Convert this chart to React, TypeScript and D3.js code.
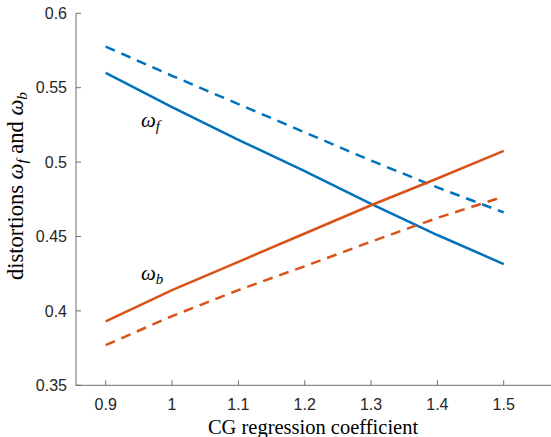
import React from "react";
import * as d3 from "d3";

const xs = [0.9, 1.0, 1.1, 1.2, 1.3, 1.4, 1.5];
const omegaFSolid = [0.56, 0.537, 0.515, 0.494, 0.472, 0.451, 0.4315];
const omegaFDashed = [0.5776, 0.558, 0.539, 0.52, 0.501, 0.483, 0.4662];
const omegaBSolid = [0.393, 0.414, 0.433, 0.452, 0.471, 0.489, 0.5075];
const omegaBDashed = [0.377, 0.3965, 0.414, 0.43, 0.4465, 0.4625, 0.4768];
const xTicks = [0.9, 1.0, 1.1, 1.2, 1.3, 1.4, 1.5];
const yTicks = [0.35, 0.4, 0.45, 0.5, 0.55, 0.6];

const W = 551;
const H = 437;
const BLUE = "#0072BD";
const ORANGE = "#D95319";

export default function App() {
  const x = d3.scaleLinear().domain([0.8552, 1.5713]).range([76, 551]);
  const y = d3.scaleLinear().domain([0.35, 0.6]).range([385.3, 13.3]);
  const line = d3
    .line<number>()
    .x((_, i) => x(xs[i]))
    .y((d) => y(d));

  const series = [
    { v: omegaFSolid, c: BLUE, dash: undefined },
    { v: omegaFDashed, c: BLUE, dash: "10,7" },
    { v: omegaBSolid, c: ORANGE, dash: undefined },
    { v: omegaBDashed, c: ORANGE, dash: "10,7" },
  ];
  const axisColor = "#6e6e6e";
  const textColor = "#262626";
  const serif = "'Liberation Serif', 'Times New Roman', serif";
  const sans = "'Liberation Sans', Arial, sans-serif";

  return (
    <svg
      width={W}
      height={H}
      style={{ position: "absolute", left: 0, top: 0, background: "#fff" }}
    >
      <rect x={0} y={0} width={W} height={H} fill="#fff" />
      <line x1={76} x2={76} y1={y(0.6)} y2={y(0.35) + 0.5} stroke={axisColor} strokeWidth={1} />
      <line x1={76} x2={551} y1={y(0.35)} y2={y(0.35)} stroke={axisColor} strokeWidth={1} />
      {yTicks.map((t) => (
        <g key={"y" + t}>
          <line x1={76} x2={81} y1={y(t)} y2={y(t)} stroke={axisColor} strokeWidth={1} />
          <text
            x={67}
            y={y(t)}
            dy="0.35em"
            textAnchor="end"
            fontFamily={sans}
            fontSize={16}
            fill={textColor}
          >
            {String(t)}
          </text>
        </g>
      ))}
      {xTicks.map((t) => (
        <g key={"x" + t}>
          <line x1={x(t)} x2={x(t)} y1={y(0.35)} y2={y(0.35) - 5} stroke={axisColor} strokeWidth={1} />
          <text
            x={x(t)}
            y={410}
            textAnchor="middle"
            fontFamily={sans}
            fontSize={16}
            fill={textColor}
          >
            {String(t)}
          </text>
        </g>
      ))}
      {series.map((s, i) => (
        <path
          key={i}
          d={line(s.v) || ""}
          fill="none"
          stroke={s.c}
          strokeWidth={2.5}
          strokeDasharray={s.dash}
        />
      ))}
      <text x={141} y={127} fontFamily={serif} fontSize={21} fontStyle="italic" fill="#000">
        ω<tspan fontSize={15} dy={4}>f</tspan>
      </text>
      <text x={141} y={280} fontFamily={serif} fontSize={21} fontStyle="italic" fill="#000">
        ω<tspan fontSize={15} dy={4}>b</tspan>
      </text>
      <text
        x={313}
        y={434}
        textAnchor="middle"
        fontFamily={serif}
        fontSize={20.5}
        fill="#000"
      >
        CG regression coefficient
      </text>
      <text
        transform={`translate(23,186) rotate(-90)`}
        textAnchor="middle"
        fontFamily={serif}
        fontSize={22.5}
        fill="#000"
      >
        distortions{" "}
        <tspan fontStyle="italic">ω</tspan>
        <tspan fontStyle="italic" fontSize={15.5} dy={4}>f</tspan>
        <tspan dy={-4}> and </tspan>
        <tspan fontStyle="italic">ω</tspan>
        <tspan fontStyle="italic" fontSize={15.5} dy={4}>b</tspan>
      </text>
    </svg>
  );
}
